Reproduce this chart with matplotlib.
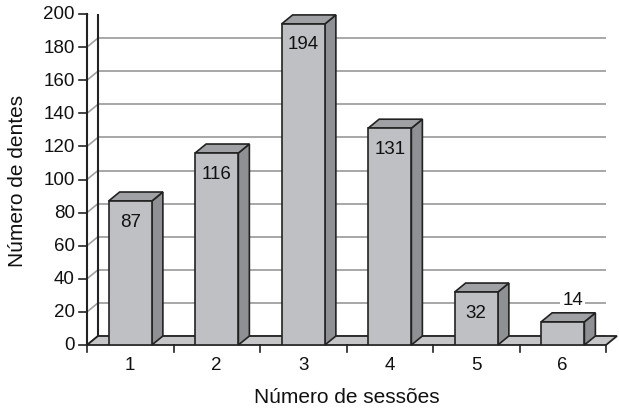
import matplotlib
matplotlib.use("Agg")
import matplotlib.pyplot as plt
from matplotlib.patches import Polygon
from matplotlib.transforms import ScaledTranslation

# Data
sessions = ["1", "2", "3", "4", "5", "6"]
teeth = [87, 116, 194, 131, 32, 14]
y_ticks = [0, 20, 40, 60, 80, 100, 120, 140, 160, 180, 200]

plt.rcParams["font.family"] = ["Liberation Sans", "DejaVu Sans"]

FRONT = "#bfc0c4"
SIDE = "#8f9094"
TOP = "#a0a1a5"
FLOOR = "#c6c6c8"
EDGE = "#222222"
GRID = "#a0a0a0"
INK = "#111111"

fig = plt.figure(figsize=(6.19, 4.10), dpi=100)
ax = fig.add_axes([87 / 619, 64 / 410, 519 / 619, 331 / 410])
ax.set_xlim(0.5, len(sessions) + 0.5)
ax.set_ylim(0, 200)
ax.axis("off")

# depth of the 3D box, as an offset (inches) applied to the data transform
depth = ScaledTranslation(0.11, 0.09, fig.dpi_scale_trans)
front = ax.transData
back = ax.transData + depth

x0, x1 = 0.5, len(sessions) + 0.5

# back wall gridlines and side wall gridlines
for v in y_ticks:
    ax.plot([x0, x1], [v, v], color=GRID, lw=1.3, transform=back, zorder=1)
    # slanted line on left wall: front point to back point
    pf = front.transform((x0, v))
    pb = back.transform((x0, v))
    ax.plot([pf[0], pb[0]], [pf[1], pb[1]], color=GRID if v else EDGE,
            lw=1.2, transform=None, zorder=1)
    # tick on the front axis
    ax.plot([pf[0] - 8, pf[0]], [pf[1], pf[1]], color=EDGE, lw=1.2,
            transform=None, zorder=6, clip_on=False)
    ax.text(pf[0] - 12, pf[1], str(v), ha="right", va="center", fontsize=13.5,
            transform=None, color=INK)

# back wall frame
ax.plot([x0, x0], [0, 200], color=EDGE, lw=1.5, transform=back, zorder=2)
ax.plot([x0, x1], [200, 200], color=EDGE, lw=1.8, transform=back, zorder=2)
ax.plot([x1, x1], [0, 200], color="#777777", lw=1.0, transform=back, zorder=2)
ax.plot([x0, x0], [0, 200], color=EDGE, lw=1.5, transform=front, zorder=6,
        clip_on=False)
pf = front.transform((x0, 200))
pb = back.transform((x0, 200))
ax.plot([pf[0], pb[0]], [pf[1], pb[1]], color=EDGE, lw=1.5, transform=None,
        zorder=2)

# floor
corners = [front.transform((x0, 0)), front.transform((x1, 0)),
           back.transform((x1, 0)), back.transform((x0, 0))]
ax.add_patch(Polygon(corners, closed=True, facecolor=FLOOR, edgecolor=EDGE,
                     lw=1.3, transform=None, zorder=3, clip_on=False))

# x ticks on the front floor edge
for i in range(len(sessions) + 1):
    p = front.transform((x0 + i, 0))
    ax.plot([p[0], p[0]], [p[1], p[1] - 7], color=EDGE, lw=1.2,
            transform=None, zorder=6, clip_on=False)
for i, s in enumerate(sessions):
    p = front.transform((i + 1, 0))
    ax.text(p[0], p[1] - 20, s, ha="center", va="center", fontsize=13.5,
            transform=None, color=INK)

# bars: front face, side face and top
width = 0.5
for i, v in enumerate(teeth):
    xc = i + 1
    xl, xr = xc - width / 2, xc + width / 2
    fr = front.transform((xr, 0))
    ftl, ftr = front.transform((xl, v)), front.transform((xr, v))
    btl, btr = back.transform((xl, v)), back.transform((xr, v))
    br = back.transform((xr, 0))
    ax.add_patch(Polygon([fr, br, btr, ftr], closed=True, facecolor=SIDE,
                         edgecolor=EDGE, lw=1.2, transform=None, zorder=4,
                         clip_on=False))
    ax.add_patch(Polygon([ftl, ftr, btr, btl], closed=True, facecolor=TOP,
                         edgecolor=EDGE, lw=1.2, transform=None, zorder=4,
                         clip_on=False))
    ax.bar(xc, v, width=width, color=FRONT, edgecolor=EDGE, lw=1.2, zorder=5)

    # value labels
    top = front.transform((xc, v))
    if v > 25:
        ax.text(top[0], top[1] - 20, str(v), ha="center", va="center",
                fontsize=13.5, transform=None, zorder=7, color=INK)
    else:
        ax.text(top[0] + 10, top[1] + 22, str(v), ha="center", va="center",
                fontsize=13.5, transform=None, zorder=7, color=INK,
                bbox=dict(facecolor="white", edgecolor="none", pad=1.5))

fig.text(18 / 619, 1 - 181 / 410, "Número de dentes", rotation=90,
         ha="center", va="center", fontsize=15, color=INK)
fig.text(347 / 619, 1 - 398 / 410, "Número de sessões", ha="center",
         va="center", fontsize=15, color=INK)

fig.savefig("out.png", dpi=100)
plt.close(fig)
